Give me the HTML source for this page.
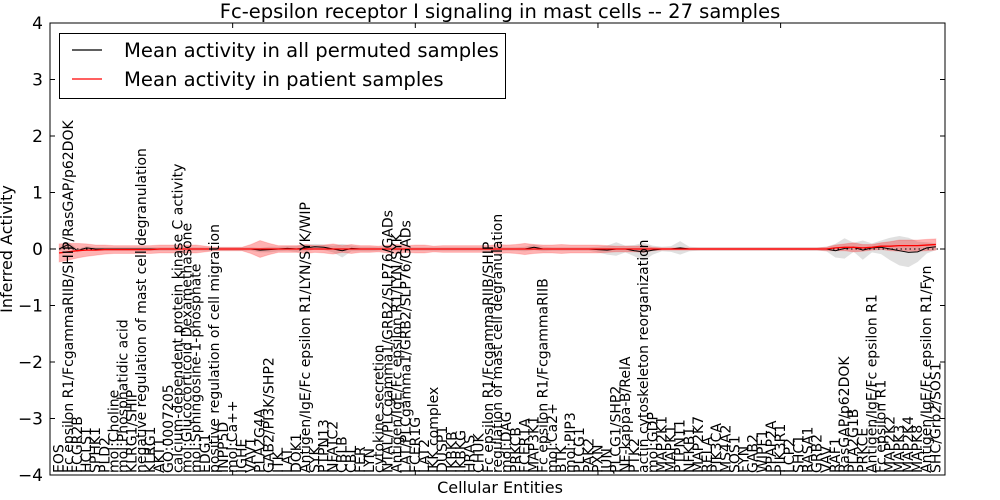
<!DOCTYPE html>
<html><head><meta charset="utf-8"><style>
body{margin:0;background:#fff}
svg{display:block;font-family:"DejaVu Sans","Liberation Sans",sans-serif}
</style></head><body>
<svg id="chart" width="1000" height="500" xmlns="http://www.w3.org/2000/svg">
<text x="500" y="18" text-anchor="middle" font-size="19.5">Fc-epsilon receptor I signaling in mast cells -- 27 samples</text>
<text x="500" y="493" text-anchor="middle" font-size="16">Cellular Entities</text>
<text transform="translate(12,249) rotate(-90)" text-anchor="middle" font-size="16">Inferred Activity</text>
<g id="bands"></g><g id="lines"></g><g id="labels"></g><g id="axes"></g>
<g>
<rect x="59.5" y="33.5" width="446" height="65" fill="#fff" stroke="#000"/>
<line x1="72" y1="50" x2="102" y2="50" stroke="#000" stroke-width="1.2"/>
<text x="124" y="57" font-size="19.6">Mean activity in all permuted samples</text>
<line x1="72" y1="79" x2="102" y2="79" stroke="#f00" stroke-width="1.2"/>
<text x="124" y="86" font-size="19.6">Mean activity in patient samples</text>
</g>
</svg>
<script>
const entities=["EOS","Fc epsilon R1/FcgammaRIIB/SHIP/RasGAP/p62DOK","FCGR2B","HCLS1","SPHK1","PLD2","mol:Choline","mol:Phosphatidic acid","KLRG1/SHIP","negative regulation of mast cell degranulation","KLRG1","AKT1","GO:0007205","calcium-dependent protein kinase C activity","mol:Glucocorticoid Dexamethasone","mol:Sphingosine-1-phosphate","EDG1","positive regulation of cell migration","INPP5D","mol:Ca++","IGHE","VAV1","PLA2G4A","GAB2/PI3K/SHP2","ITK","LAT","DOK1","Antigen/IgE/Fc epsilon R1/LYN/SYK/WIP","SYK","PTPN13","NFATC2","CBLB","CBL","FER","LYN","cytokine secretion","NTAL/PLCgamma1/GRB2/SLP76/GADs","Antigen/IgE/Fc epsilon R1/LYN/SYK","LAT/PLCgamma1/GRB2/SLP76/GADs","FCER1G","LAT2","IKK complex","DUSP1","IKBKB","IKBKG","HRAS","CHUK","Fc epsilon R1/FcgammaRIIB/SHIP","regulation of mast cell degranulation","mol:DAG","PRKCB","FCER1A","MAP3K1","Fc epsilon R1/FcgammaRIIB","mol:Ca2+","BTK","mol:PIP3","PLCG1","PAK2","PXN","JUN","PLCG1/SHP2","NF-kappa-B/RelA","PTK2","actin cytoskeleton reorganization","mol:GDP","MAP2K1","MAPK1","PTPN11","NFKB1","MAP2K7","RELA","PIK3CA","MS4A2","SOS1","FYN","GAB2","WIPF1","PPAP2A","PIK3R1","LCP2","SHC1","RASA1","GRB2","VAV","RAF1","RasGAP/p62DOK","PLA2G1B","PRKCE","Antigen/IgE/Fc epsilon R1","Fc epsilon R1","MAP2K2","MAPK3","MAP2K4","MAPK8","Antigen/IgE/Fc epsilon R1/Fyn","SHC/Grb2/SOS1"];
const patientMean=[-0.07,-0.05,-0.03,-0.02,-0.02,-0.01,-0.01,-0.01,-0.01,-0.01,-0.01,0,0,0,0,0,0,0,0,0,0,0,0,0,0,0,0,0,0,0,0,0,0,0,0,0,0,0,0,0,0,0,0,0,0,0,0,0,0,0,0,0,0,0,0,0,0,0,0,0,0,0,0,0,0,0,0,0,0,0,0,0,0,0,0,0,0,0,0,0,0,0,0,0,0,0.02,0.03,0.03,0.02,0.03,0.05,0.05,0.06,0.06,0.06,0.07,0.08];
const patientSpread=[0.16,0.15,0.13,0.11,0.09,0.08,0.07,0.07,0.07,0.07,0.07,0.07,0.07,0.07,0.07,0.07,0.05,0.03,0.03,0.03,0.03,0.08,0.15,0.1,0.06,0.06,0.06,0.08,0.06,0.07,0.09,0.06,0.08,0.06,0.06,0.05,0.07,0.08,0.06,0.07,0.07,0.05,0.06,0.06,0.06,0.06,0.06,0.06,0.08,0.07,0.08,0.1,0.08,0.07,0.07,0.08,0.07,0.07,0.07,0.07,0.06,0.05,0.05,0.05,0.06,0.03,0.02,0.02,0.02,0.02,0.02,0.02,0.02,0.02,0.02,0.02,0.02,0.02,0.02,0.02,0.02,0.02,0.02,0.02,0.03,0.05,0.06,0.08,0.06,0.05,0.06,0.08,0.1,0.1,0.1,0.1,0.1];
const permMean=[0,0.08,-0.03,0.02,0,0,0,0,0,0,0,0,0,0,0,0,0,0,0,0,0,0,-0.02,-0.01,0,0.01,0,0.02,0.04,0.03,0,-0.03,0.01,0,0,0,0,0,0,0,0,0,0,0,0,0,0,0,0,0,0,0,0.03,0,0,0,0,0,0,-0.01,-0.02,0,0,-0.03,-0.05,-0.02,0,0,0.02,0,0,0,0,0,0,0,0,0,0,0,0,0,0,0,0,-0.03,0.01,0.03,-0.02,0.02,0.03,0,-0.03,-0.06,-0.05,0.02,0.04];
const permSpread=[0.03,0.05,0.03,0.03,0.03,0.03,0.03,0.03,0.03,0.03,0.03,0.03,0.03,0.03,0.03,0.03,0.03,0.03,0.03,0.03,0.03,0.03,0.04,0.05,0.04,0.04,0.05,0.06,0.05,0.05,0.06,0.12,0.05,0.04,0.04,0.03,0.03,0.03,0.03,0.03,0.03,0.03,0.03,0.03,0.03,0.03,0.03,0.03,0.03,0.03,0.03,0.04,0.05,0.04,0.03,0.03,0.03,0.03,0.03,0.05,0.08,0.12,0.06,0.1,0.16,0.08,0.04,0.05,0.12,0.04,0.03,0.03,0.03,0.03,0.03,0.03,0.03,0.03,0.03,0.03,0.03,0.03,0.03,0.03,0.04,0.12,0.18,0.08,0.17,0.08,0.12,0.2,0.26,0.26,0.18,0.1,0.06];
const yTicks=[4,3,2,1,0,-1,-2,-3,-4];
const xTicks=[20,40,60,80];
const L=50,R=945,T=23,B=475,X0=0,X1=98,Y0=-4,Y1=4;
const xs=v=>L+(v-X0)/(X1-X0)*(R-L);
const ys=v=>B-(v-Y0)/(Y1-Y0)*(B-T);
const NS="http://www.w3.org/2000/svg";
function mk(tag,at,par){const e=document.createElementNS(NS,tag);for(const k in at)e.setAttribute(k,at[k]);par.appendChild(e);return e;}
const bands=document.getElementById('bands'),lines=document.getElementById('lines'),labs=document.getElementById('labels'),axes=document.getElementById('axes');
function bandPath(m,s){let up=m.map((v,i)=>xs(i+1)+','+ys(v+s[i]));let dn=m.map((v,i)=>xs(i+1)+','+ys(v-s[i])).reverse();return 'M'+up.join('L')+'L'+dn.join('L')+'Z';}
let g1=mk('path',{d:bandPath(permMean,permSpread),fill:'#bbbbbb','fill-opacity':0.45,stroke:'none'},bands);


let r1=mk('path',{d:bandPath(patientMean,patientSpread),fill:'#f00','fill-opacity':0.3,stroke:'#f00','stroke-opacity':0.15},bands);


let z=mk('line',{x1:L,x2:R,y1:ys(0),y2:ys(0),stroke:'#000','stroke-dasharray':'1.5,3','stroke-width':1},lines);


let bl=mk('polyline',{points:permMean.map((v,i)=>xs(i+1)+','+ys(v)).join(' '),fill:'none',stroke:'#000','stroke-width':1},lines);


let rl=mk('polyline',{points:patientMean.map((v,i)=>xs(i+1)+','+ys(v)).join(' '),fill:'none',stroke:'#f00','stroke-width':1.3},lines);


entities.forEach((t,i)=>{const x=xs(i+1)+4.5;const e=mk('text',{transform:`translate(${x},473) rotate(-90)`,'font-size':14},labs);e.textContent=t;

});
let fr=mk('rect',{x:L,y:T,width:R-L,height:B-T,fill:'none',stroke:'#000','stroke-width':1},axes);


yTicks.forEach(v=>{const y=ys(v);mk('line',{x1:L,x2:L+5,y1:y,y2:y,stroke:'#000'},axes);mk('line',{x1:R-5,x2:R,y1:y,y2:y,stroke:'#000'},axes);
const t=mk('text',{x:L-7,y:y+6,'text-anchor':'end','font-size':17},axes);t.textContent=v<0?'\u2212'+(-v):String(v);

});
xTicks.forEach(v=>{const x=xs(v);mk('line',{x1:x,x2:x,y1:T,y2:T+5,stroke:'#000'},axes);mk('line',{x1:x,x2:x,y1:B-5,y2:B,stroke:'#000'},axes);});
</script>
</body></html>
